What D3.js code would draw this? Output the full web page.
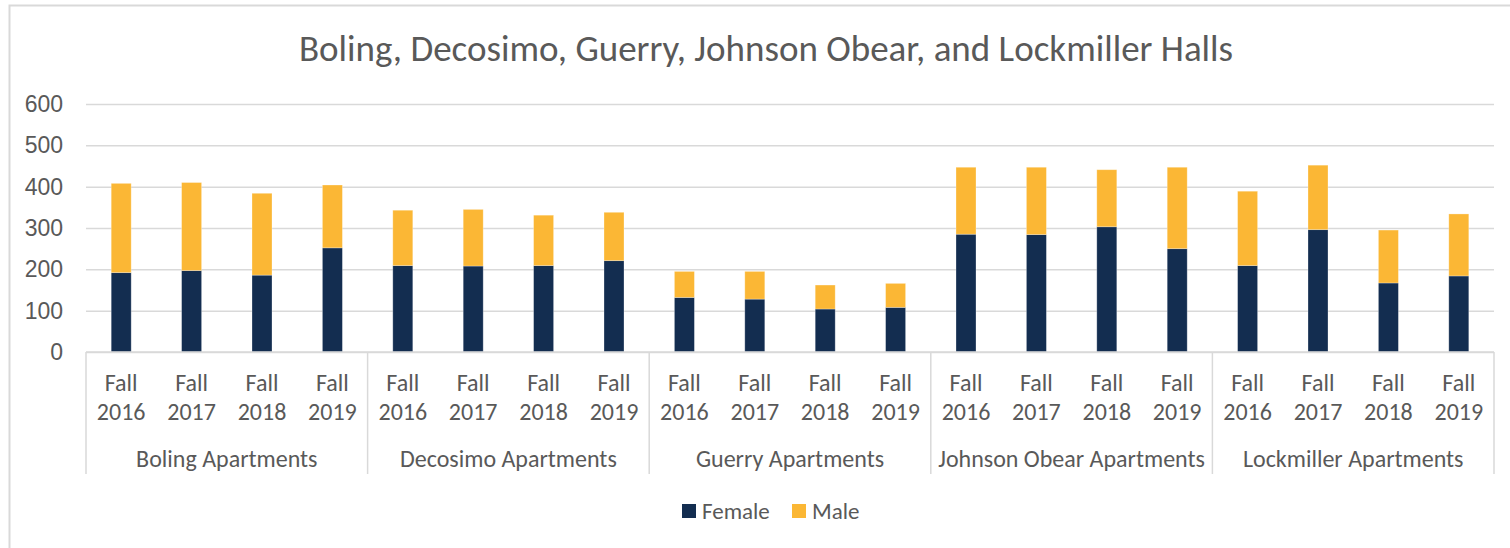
<!DOCTYPE html>
<html>
<head>
<meta charset="utf-8">
<script src="https://cdn.jsdelivr.net/npm/d3@7"></script>
<style>
  body { margin: 0; background: #fff; }
  svg { display: block; font-family: Calibri, Carlito, Lato, "Open Sans", sans-serif; }
</style>
</head>
<body>
<svg></svg>
<script>
const width = 1510;
const height = 548;

// data
const halls = ['Boling Apartments', 'Decosimo Apartments', 'Guerry Apartments', 'Johnson Obear Apartments', 'Lockmiller Apartments'];
const terms = ['Fall 2016', 'Fall 2017', 'Fall 2018', 'Fall 2019'];
const female = [192, 197, 186, 252,  209, 208, 209, 221,  132, 128, 104, 108,  285, 284, 303, 250,  209, 296, 167, 184];
const male   = [216, 213, 198, 152,  134, 137, 122, 117,   63,  67,  58,  58,  162, 163, 138, 197,  180, 156, 128, 150];
const yTicks = [0, 100, 200, 300, 400, 500, 600];

const colors = { Female: '#132d50', Male: '#fbb735' };
const textColor = '#595959';
const lineColor = '#d9d9d9';

const margin = { left: 86, right: 16, top: 104, bottom: 196 };

const svg = d3.select('svg')
    .attr('width', width)
    .attr('height', height);

// chart border
svg.append('rect')
    .attr('x', 9.5)
    .attr('y', 5.5)
    .attr('width', width + 10)
    .attr('height', height + 10)
    .attr('fill', 'none')
    .attr('stroke', lineColor)
    .attr('stroke-width', 2);

// title
svg.append('text')
    .attr('x', 766)
    .attr('y', 61)
    .attr('text-anchor', 'middle')
    .attr('fill', textColor)
    .attr('font-size', 37)
    .text('Boling, Decosimo, Guerry, Johnson Obear, and Lockmiller Halls');

// one key per bar: hall | term
const keys = [];
halls.forEach((h) => terms.forEach((t) => keys.push(h + '|' + t)));

const rows = keys.map((k, i) => ({ key: k, Female: female[i], Male: male[i] }));

const x = d3.scaleBand()
    .domain(keys)
    .range([margin.left, width - margin.right])
    .paddingInner(0.716)
    .paddingOuter(0.358);

const xGroup = d3.scaleBand()
    .domain(halls)
    .range([margin.left, width - margin.right]);

const y = d3.scaleLinear()
    .domain([0, 600])
    .range([height - margin.bottom, margin.top]);

// gridlines + y labels
const yAxis = svg.append('g')
    .attr('transform', `translate(${margin.left},0)`)
    .call(d3.axisLeft(y).tickValues(yTicks).tickSize(-(width - margin.left - margin.right)).tickPadding(23));

yAxis.select('.domain').remove();
yAxis.selectAll('.tick line')
    .attr('stroke', lineColor)
    .attr('stroke-width', 1.5);
yAxis.selectAll('.tick text')
    .attr('fill', textColor)
    .attr('font-size', 23);

// stacked bars
const stack = d3.stack().keys(['Female', 'Male']);
const series = stack(rows);

svg.append('g')
    .selectAll('g')
    .data(series)
    .join('g')
    .attr('fill', d => colors[d.key])
    .selectAll('rect')
    .data(d => d)
    .join('rect')
    .attr('x', d => x(d.data.key))
    .attr('width', x.bandwidth())
    .attr('y', d => y(d[1]))
    .attr('height', d => y(d[0]) - y(d[1]))
    .attr('stroke', '#ffffff')
    .attr('stroke-opacity', 0.35)
    .attr('stroke-width', 0.8);

// category axis line
const axisY = y(0);
svg.append('line')
    .attr('x1', margin.left)
    .attr('x2', width - margin.right)
    .attr('y1', axisY)
    .attr('y2', axisY)
    .attr('stroke', lineColor)
    .attr('stroke-width', 1.5);

// group separators
const seps = halls.map(h => xGroup(h)).concat([width - margin.right]);
svg.append('g')
    .selectAll('line')
    .data(seps)
    .join('line')
    .attr('x1', d => d)
    .attr('x2', d => d)
    .attr('y1', axisY)
    .attr('y2', 474)
    .attr('stroke', lineColor)
    .attr('stroke-width', 1.5);

// term labels (two lines)
const termLabels = svg.append('g')
    .selectAll('text')
    .data(keys)
    .join('text')
    .attr('text-anchor', 'middle')
    .attr('fill', textColor)
    .attr('font-size', 24);

termLabels.each(function(k) {
    const parts = k.split('|')[1].split(' ');
    const cx = x(k) + x.bandwidth() / 2;
    const t = d3.select(this);
    t.append('tspan').attr('x', cx).attr('y', 391).text(parts[0]);
    t.append('tspan').attr('x', cx).attr('y', 420).text(parts[1]);
});

// hall labels
svg.append('g')
    .selectAll('text')
    .data(halls)
    .join('text')
    .attr('x', d => xGroup(d) + xGroup.bandwidth() / 2)
    .attr('y', 467)
    .attr('text-anchor', 'middle')
    .attr('fill', textColor)
    .attr('font-size', 24)
    .text(d => d);

// legend
const legendItems = [
    { name: 'Female', x: 682 },
    { name: 'Male', x: 792 }
];
const legend = svg.append('g')
    .selectAll('g')
    .data(legendItems)
    .join('g')
    .attr('transform', d => `translate(${d.x},504)`);

legend.append('rect')
    .attr('width', 14)
    .attr('height', 14)
    .attr('fill', d => colors[d.name]);

legend.append('text')
    .attr('x', 20)
    .attr('y', 15)
    .attr('fill', textColor)
    .attr('font-size', 23)
    .text(d => d.name);
</script>
</body>
</html>
